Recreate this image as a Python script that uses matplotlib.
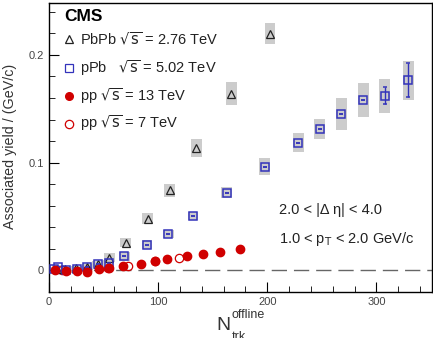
import numpy as np
import matplotlib.pyplot as plt
from matplotlib.patches import Rectangle
from matplotlib.ticker import MultipleLocator

plt.rcParams['font.family'] = ['Liberation Sans', 'DejaVu Sans']

# PbPb 2.76 TeV
pbpb_n = [7, 15, 25, 35, 44.7, 55.4, 70.5, 90.4, 110.5, 135, 167, 202.5]
pbpb_y = [0.001, 0.001, 0.002, 0.003, 0.0062, 0.0118, 0.0258, 0.048, 0.0744, 0.1135, 0.164, 0.2195]
pbpb_sys = [0.002, 0.002, 0.002, 0.003, 0.003, 0.004, 0.004, 0.005, 0.006, 0.008, 0.0105, 0.0096]

# pPb 5.02 TeV
ppb_n = [5, 8, 16, 25.7, 35.2, 45.3, 54.8, 69.2, 89.8, 109.4, 132, 162.7, 197.6,
         228.2, 248.2, 267.7, 288, 307.6, 329.3]
ppb_y = [0.001, 0.003, 0.0, 0.0016, 0.003, 0.006, 0.0068, 0.013, 0.0239, 0.0338, 0.0505,
         0.0723, 0.0961, 0.1184, 0.131, 0.145, 0.158, 0.162, 0.1765]
ppb_sys = [0.002, 0.002, 0.002, 0.002, 0.002, 0.003, 0.003, 0.004, 0.004, 0.004, 0.004,
           0.0055, 0.008, 0.009, 0.0095, 0.015, 0.016, 0.016, 0.018]
ppb_stat = [0, 0, 0, 0, 0, 0, 0, 0, 0, 0, 0, 0, 0, 0, 0, 0, 0, 0.008, 0.016]

# pp 13 TeV
pp13_n = [5.5, 15.3, 25.4, 35.2, 46, 54.8, 68.3, 84.6, 97.4, 108.2, 126.2, 141.5, 156.3, 174.6]
pp13_y = [0.0, -0.0006, -0.0006, -0.001, 0.001, 0.0022, 0.0046, 0.0062, 0.0087, 0.0109,
          0.0133, 0.015, 0.017, 0.0195]

# pp 7 TeV
pp7_n = [12, 35, 54, 72, 97.4, 119.5]
pp7_y = [0.0, 0.0, 0.002, 0.004, 0.0087, 0.0115]

fig = plt.figure(figsize=(4.33, 3.38), dpi=100)
ax = fig.add_axes([0.113, 0.136, 0.885, 0.855])

grey = '#cccccc'
for n, y, s in zip(pbpb_n, pbpb_y, pbpb_sys):
    ax.add_patch(Rectangle((n - 5, y - s), 10, 2 * s, color=grey, lw=0, zorder=1))
for n, y, s in zip(ppb_n, ppb_y, ppb_sys):
    ax.add_patch(Rectangle((n - 5, y - s), 10, 2 * s, color=grey, lw=0, zorder=1))

ax.axhline(0, color='#666666', lw=1, ls=(0, (11, 5)), zorder=1)

ax.plot(pp7_n, pp7_y, 'o', ms=6, mfc='none', mec='#d00000', mew=0.9, zorder=3)
ax.plot(pbpb_n, pbpb_y, '^', ms=6, mfc='none', mec='#222222', mew=0.9, zorder=4)
ax.errorbar(ppb_n, ppb_y, yerr=ppb_stat, fmt='s', ms=6, mfc='none', mec='#3333bb',
            mew=1.1, ecolor='#3333bb', elinewidth=1, capsize=1.5, zorder=4)
ax.plot(pp13_n, pp13_y, 'o', ms=6, color='#d00000', mec='#d00000', zorder=5)

ax.set_xlim(0, 351)
ax.set_ylim(-0.02, 0.248)
ax.xaxis.set_major_locator(MultipleLocator(100))
ax.xaxis.set_minor_locator(MultipleLocator(20))
ax.yaxis.set_major_locator(MultipleLocator(0.1))
ax.yaxis.set_minor_locator(MultipleLocator(0.02))
ax.set_yticks([0, 0.1, 0.2])
ax.set_yticklabels(['0', '0.1', '0.2'])
ax.tick_params(which='both', direction='in', top=False, right=False, labelsize=8,
               labelcolor='#444444')
ax.tick_params(which='major', length=7)
ax.tick_params(which='minor', length=4)
for sp in ax.spines.values():
    sp.set_linewidth(1.0)

fig.text(0.022, 0.567, 'Associated yield / (GeV/c)', fontsize=10.3, color='#333333',
         rotation=90, ha='center', va='center')
fig.text(0.517, 0.038, 'N', fontsize=14, ha='center', va='center', color='#333333')
fig.text(0.535, 0.068, 'offline', fontsize=9, ha='left', va='center', color='#333333')
fig.text(0.535, 0.004, 'trk', fontsize=9, ha='left', va='center', color='#333333')

# legend
tr = ax.transAxes
ax.text(0.04, 0.955, 'CMS', transform=tr, fontsize=12.5, fontweight='bold', va='center')
leg_y = [0.875, 0.775, 0.677, 0.583]
leg_txt = [r'PbPb $\sqrt{\mathrm{s}}$ = 2.76 TeV', r'pPb   $\sqrt{\mathrm{s}}$ = 5.02 TeV',
           r'pp $\sqrt{\mathrm{s}}$ = 13 TeV', r'pp $\sqrt{\mathrm{s}}$ = 7 TeV']
ax.plot(0.053, leg_y[0], '^', ms=6, mfc='none', mec='#222222', mew=0.9, transform=tr)
ax.plot(0.053, leg_y[1], 's', ms=6, mfc='none', mec='#3333bb', mew=0.9, transform=tr)
ax.plot(0.053, leg_y[2], 'o', ms=5.5, color='#d00000', transform=tr)
ax.plot(0.053, leg_y[3], 'o', ms=6, mfc='none', mec='#d00000', mew=0.9, transform=tr)
for y, t in zip(leg_y, leg_txt):
    ax.text(0.08, y, t, transform=tr, fontsize=10.5, va='center', color='#222222')

ax.text(0.60, 0.285, '2.0 < |\u0394 \u03b7| < 4.0', transform=tr, fontsize=10.5, va='center',
        color='#222222')
ax.text(0.60, 0.185, r'1.0 < p$_{\mathrm{T}}$ < 2.0 GeV/c', transform=tr, fontsize=10.5,
        va='center', color='#222222')

fig.savefig('out.png', dpi=100)
